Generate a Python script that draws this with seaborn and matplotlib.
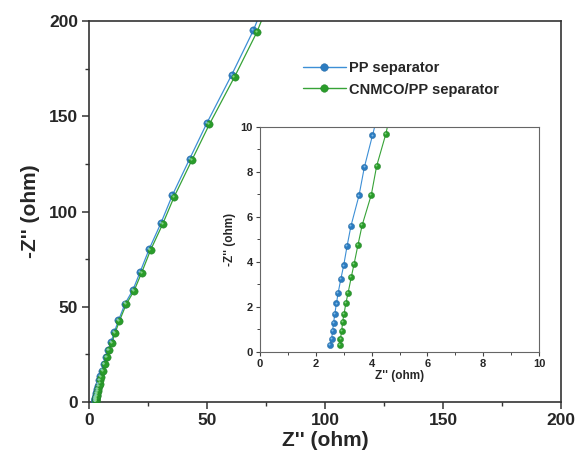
import numpy as np
import pandas as pd
import matplotlib
matplotlib.use("Agg")
import matplotlib.pyplot as plt
from matplotlib import transforms
from matplotlib.ticker import MultipleLocator
from matplotlib.lines import Line2D
import seaborn as sns

# Nyquist data (Z' real part, -Z'' imaginary part), in ohm
pp_zre = [2.51, 2.57, 2.60, 2.64, 2.68, 2.74, 2.80, 2.90, 3.00, 3.12, 3.26, 3.55, 3.74, 4.03,
          4.4, 4.7, 5.4, 6.2, 7.2, 8.2, 9.3, 10.7, 12.5, 15.3, 18.6, 21.7, 25.5, 30.5, 35.3,
          42.7, 50.0, 60.5, 69.7, 80.5]
pp_zim = [0.30, 0.59, 0.93, 1.31, 1.68, 2.16, 2.62, 3.26, 3.85, 4.70, 5.60, 6.96, 8.21, 9.62,
          11.4, 13.4, 16.5, 20.0, 23.6, 27.5, 31.3, 36.6, 42.9, 51.7, 58.8, 68.4, 80.3, 94.0,
          108.5, 127.8, 146.6, 171.9, 195.3, 229.0]
cn_zre = [2.86, 2.88, 2.93, 2.96, 3.01, 3.08, 3.16, 3.27, 3.37, 3.51, 3.66, 3.99, 4.18, 4.51,
          4.8, 5.1, 5.8, 6.6, 7.6, 8.6, 9.7, 11.1, 12.9, 15.8, 19.1, 22.3, 26.1, 31.2, 36.1,
          43.6, 51.0, 61.7, 71.2, 82.0]
cn_zim = [0.30, 0.59, 0.93, 1.33, 1.68, 2.18, 2.64, 3.32, 3.90, 4.75, 5.63, 6.99, 8.26, 9.69,
          11.3, 13.3, 16.4, 19.9, 23.5, 27.3, 31.1, 36.4, 42.6, 51.4, 58.4, 67.9, 79.8, 93.4,
          107.8, 127.0, 145.8, 170.8, 194.4, 228.0]

labels = ["PP separator", "CNMCO/PP separator"]
line_colors = ["#3d8fd6", "#37a337"]
ball_colors = ["#2c7cc0", "#2a9c2a"]
edge_colors = ["#23669f", "#22802a"]
shine_colors = ["#8cc4ee", "#8fdc8f"]

df = pd.concat([
    pd.DataFrame({"zre": pp_zre, "zim": pp_zim, "sample": labels[0]}),
    pd.DataFrame({"zre": cn_zre, "zim": cn_zim, "sample": labels[1]}),
], ignore_index=True)

sns.set_theme(style="ticks")
plt.rcParams["font.family"] = ["Liberation Sans", "DejaVu Sans"]
plt.rcParams["font.weight"] = "bold"

fig = plt.figure(figsize=(5.79, 4.65), dpi=100)
ax = fig.add_axes([0.1537, 0.1355, 0.8152, 0.819])
ins = fig.add_axes([0.449, 0.243, 0.482, 0.484])


def draw(axis, ms, lw, shine_ms, shine_off):
    for i, name in enumerate(labels):
        sub = df[df["sample"] == name]
        sns.lineplot(data=sub, x="zre", y="zim", ax=axis, sort=False, color=line_colors[i],
                     lw=lw, estimator=None, legend=False, zorder=2)
        sns.scatterplot(data=sub, x="zre", y="zim", ax=axis, color=ball_colors[i], s=ms,
                        edgecolor=edge_colors[i], linewidth=0.3, legend=False, zorder=3)
        shine = transforms.offset_copy(axis.transData, fig=fig, x=-shine_off, y=shine_off,
                                       units="points")
        sns.scatterplot(data=sub, x="zre", y="zim", ax=axis, color=shine_colors[i],
                        s=shine_ms, linewidth=0, legend=False, zorder=4, transform=shine,
                        alpha=0.85)


draw(ax, 28, 0.9, 2.5, 0.8)
draw(ins, 20, 0.8, 2.0, 0.6)

# Main axes
ax.set_xlim(0, 200)
ax.set_ylim(0, 200)
ax.xaxis.set_major_locator(MultipleLocator(50))
ax.xaxis.set_minor_locator(MultipleLocator(25))
ax.yaxis.set_major_locator(MultipleLocator(50))
ax.yaxis.set_minor_locator(MultipleLocator(25))
ax.tick_params(which="major", direction="out", length=5, width=1.1, color="#333333",
               labelsize=12.5, pad=3, top=False, right=False)
ax.tick_params(which="minor", direction="out", length=3, width=1.0, color="#333333",
               top=False, right=False)
for lab in ax.get_xticklabels() + ax.get_yticklabels():
    lab.set_fontweight("bold")
ax.set_xlabel("Z'' (ohm)", fontsize=15, fontweight="bold", labelpad=2)
ax.set_ylabel("-Z'' (ohm)", fontsize=15, fontweight="bold", labelpad=6)
for sp in ax.spines.values():
    sp.set_visible(True)
    sp.set_color("#333333")
    sp.set_linewidth(1.2)

# Inset axes
ins.set_xlim(0, 10)
ins.set_ylim(0, 10)
ins.xaxis.set_major_locator(MultipleLocator(2))
ins.xaxis.set_minor_locator(MultipleLocator(1))
ins.yaxis.set_major_locator(MultipleLocator(2))
ins.yaxis.set_minor_locator(MultipleLocator(1))
ins.tick_params(which="major", direction="out", length=3, width=0.8, color="#444444",
                labelsize=8, pad=2, top=False, right=False)
ins.tick_params(which="minor", direction="out", length=2, width=0.7, color="#444444",
                top=False, right=False)
for lab in ins.get_xticklabels() + ins.get_yticklabels():
    lab.set_fontweight("bold")
ins.set_xlabel("Z'' (ohm)", fontsize=8.5, fontweight="bold", labelpad=1)
ins.set_ylabel("-Z'' (ohm)", fontsize=8.5, fontweight="bold", labelpad=3)
for sp in ins.spines.values():
    sp.set_visible(True)
    sp.set_color("#666666")
    sp.set_linewidth(0.8)

# Legend
handles = [Line2D([0], [0], color=line_colors[i], lw=1.0, marker="o", markersize=5.5,
                  markerfacecolor=ball_colors[i], markeredgecolor=edge_colors[i],
                  markeredgewidth=0.3) for i in range(2)]
leg = ax.legend(handles, labels, loc="upper left", bbox_to_anchor=(0.44, 0.91),
                frameon=False, fontsize=10.5, handlelength=3.0, handletextpad=0.2,
                labelspacing=0.5, borderaxespad=0)
for t in leg.get_texts():
    t.set_fontweight("bold")

fig.savefig("out.png", dpi=100)
